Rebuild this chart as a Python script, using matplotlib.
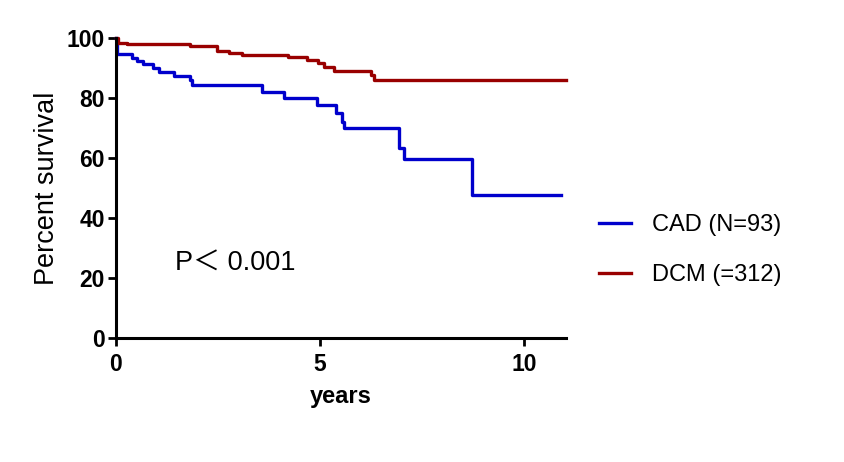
import numpy as np
import matplotlib.pyplot as plt

plt.rcParams['font.family'] = ['Liberation Sans', 'Noto Sans CJK SC', 'DejaVu Sans']

# Kaplan-Meier steps (years, percent survival)
cad_t = [0, 0.02, 0.40, 0.51, 0.65, 0.91, 1.06, 1.42, 1.81, 1.86, 3.57, 4.13,
         4.93, 5.39, 5.55, 5.60, 6.94, 7.07, 8.72, 8.73, 10.9]
cad_s = [100, 94.6, 93.2, 92.4, 91.3, 90.1, 88.8, 87.3, 86.0, 84.3, 82.0, 80.0,
         77.7, 74.9, 72.1, 69.9, 63.2, 59.6, 53.6, 47.6, 47.6]
dcm_t = [0, 0.05, 0.28, 1.81, 2.47, 2.78, 3.08, 4.22, 4.67, 4.96, 5.10, 5.34,
         6.24, 6.32, 11.02]
dcm_s = [100, 98.2, 97.9, 97.2, 95.8, 95.0, 94.3, 93.6, 92.8, 91.7, 90.3, 89.0,
         87.7, 86.0, 86.0]
labels = ['CAD (N=93)', 'DCM (=312)']
colors = ['#0000cc', '#990000']

fig = plt.figure(figsize=(8.45, 4.62), dpi=100)
ax = fig.add_axes([116/845, 1-338/462, 450/845, 300/462])

ax.step(cad_t, cad_s, where='post', color=colors[0], lw=2.4, label=labels[0], clip_on=False)
ax.step(dcm_t, dcm_s, where='post', color=colors[1], lw=2.4, label=labels[1], clip_on=False)

ax.set_xlim(0, 11.03)
ax.set_ylim(0, 100)
ax.set_xticks([0, 5, 10])
ax.set_yticks([0, 20, 40, 60, 80, 100])
for s in ['top', 'right']:
    ax.spines[s].set_visible(False)
for s in ['left', 'bottom']:
    ax.spines[s].set_linewidth(2.2)
ax.tick_params(width=2, length=6, labelsize=16.5)
ax.tick_params(axis='x', pad=5)
ax.tick_params(axis='y', pad=2)
for lab in ax.get_xticklabels() + ax.get_yticklabels():
    lab.set_fontweight('bold')

ax.set_xlabel('years', fontsize=17, fontweight='bold', labelpad=6)
ax.set_ylabel('Percent survival', fontsize=19.5, labelpad=5)

ax.text(1.45, 25, 'P\uff1c 0.001', fontsize=19.5, va='center', ha='left')

fig.legend(loc='center left', bbox_to_anchor=(578/845, 1-250/462), frameon=False,
           fontsize=17, handlelength=1.35, handletextpad=0.9, labelspacing=1.2)

fig.savefig('out.png', dpi=100)
